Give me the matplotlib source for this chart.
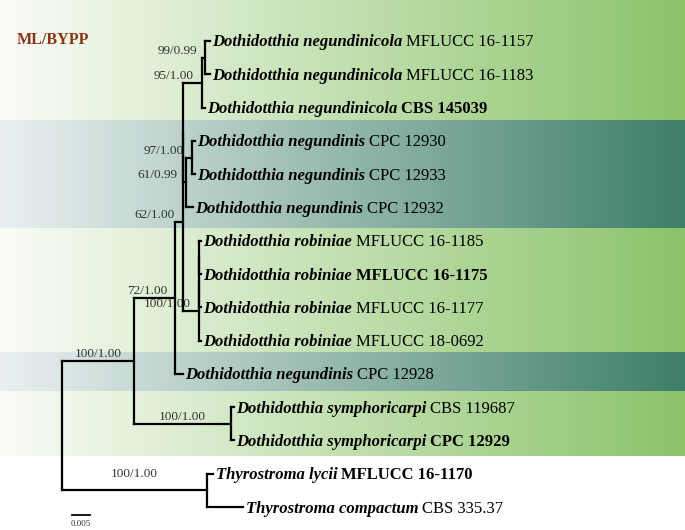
import matplotlib
matplotlib.use("Agg")
import matplotlib.pyplot as plt
import numpy as np

# tips, top to bottom
tip_names = ["Dothidotthia negundinicola", "Dothidotthia negundinicola", "Dothidotthia negundinicola",
             "Dothidotthia negundinis", "Dothidotthia negundinis", "Dothidotthia negundinis",
             "Dothidotthia robiniae", "Dothidotthia robiniae", "Dothidotthia robiniae", "Dothidotthia robiniae",
             "Dothidotthia negundinis",
             "Dothidotthia symphoricarpi", "Dothidotthia symphoricarpi",
             "Thyrostroma lycii", "Thyrostroma compactum"]
tip_strains = ["MFLUCC 16-1157", "MFLUCC 16-1183", "CBS 145039",
               "CPC 12930", "CPC 12933", "CPC 12932",
               "MFLUCC 16-1185", "MFLUCC 16-1175", "MFLUCC 16-1177", "MFLUCC 18-0692",
               "CPC 12928",
               "CBS 119687", "CPC 12929",
               "MFLUCC 16-1170", "CBS 335.37"]
strain_bold = [False, False, True, False, False, False, False, True, False, False,
               False, False, True, True, False]

# branches: child, parent, length (substitutions/site)
edge_child = ["dothid", "thyro", "t13", "t14", "n72", "symph", "t11", "t12",
              "n62", "t10", "nz", "r3", "r2", "t9", "r1", "t8", "t6", "t7",
              "negcola", "n99", "t0", "t1", "t2", "n61", "n97", "t3", "t4", "t5"]
edge_parent = ["root", "root", "thyro", "thyro", "dothid", "dothid", "symph", "symph",
               "n72", "n72", "n62", "n62", "r3", "r3", "r2", "r2", "r1", "r1",
               "nz", "negcola", "n99", "n99", "negcola", "nz", "n61", "n97", "n97", "n61"]
edge_length = [0.0200, 0.0403, 0.0017, 0.0100, 0.0114, 0.0269, 0.0008, 0.0008,
               0.0022, 0.0022, 0.0, 0.0044, 0.0, 0.0006, 0.0, 0.0006, 0.0006, 0.0006,
               0.0053, 0.0008, 0.0014, 0.0014, 0.0008, 0.0008, 0.0017, 0.0008, 0.0008, 0.0019]

supports = {"dothid": "100/1.00", "thyro": "100/1.00", "n72": "72/1.00", "symph": "100/1.00",
            "n62": "62/1.00", "r3": "100/1.00", "negcola": "95/1.00", "n99": "99/0.99",
            "n61": "61/0.99", "n97": "97/1.00"}

scale_len = 0.005

# pixel layout helpers (figure is 685 x 530 px)
PX_PER_UNIT = 3600.0
ROOT_PX = 62.0
TIP0_PX = 41.0
TIP_STEP = 33.29


def px2x(px):
    return (px - ROOT_PX) / PX_PER_UNIT


def px2y(py):
    return (py - TIP0_PX) / TIP_STEP


children = {}
blen = {}
for c, p, l in zip(edge_child, edge_parent, edge_length):
    children.setdefault(p, []).append(c)
    blen[c] = l

xpos = {"root": 0.0}
ypos = {}


def layout(node):
    for c in children.get(node, []):
        xpos[c] = xpos[node] + blen[c]
        layout(c)
    if node.startswith("t") and node[1:].isdigit():
        ypos[node] = float(node[1:])
    else:
        kids = children[node]
        ypos[node] = (ypos[kids[0]] + ypos[kids[-1]]) / 2


layout("root")

fig = plt.figure(figsize=(6.85, 5.30), dpi=100)
ax = fig.add_axes([0, 0, 1, 1])
ax.set_xlim(px2x(0), px2x(685))
ax.set_ylim(px2y(530), px2y(0))
ax.axis("off")


def band(y0, y1, c_left, c_right):
    t = np.linspace(0, 1, 256)[None, :, None]
    a = np.array(c_left)[None, None, :] / 255.0
    b = np.array(c_right)[None, None, :] / 255.0
    img = a + (b - a) * t
    ax.imshow(img, extent=[px2x(0), px2x(685), y1, y0], aspect="auto", zorder=0,
              interpolation="bilinear")


green_l, green_r = (250, 252, 247), (138, 195, 106)
teal_l, teal_r = (234, 240, 241), (62, 127, 104)
band(px2y(0), px2y(456), green_l, green_r)
band(px2y(120), px2y(228), teal_l, teal_r)
band(px2y(352), px2y(391), teal_l, teal_r)

lw = 1.6
for c, p in zip(edge_child, edge_parent):
    ax.plot([xpos[p], xpos[c]], [ypos[c], ypos[c]], color="black", lw=lw,
            solid_capstyle="projecting", zorder=3)
for p, kids in children.items():
    ys = [ypos[k] for k in kids]
    ax.plot([xpos[p], xpos[p]], [min(ys), max(ys)], color="black", lw=lw,
            solid_capstyle="projecting", zorder=3)

# support values
for node, lab in supports.items():
    par = edge_parent[edge_child.index(node)]
    seg_px = (xpos[node] - xpos[par]) * PX_PER_UNIT
    if seg_px > 60:
        xl = (xpos[node] + xpos[par]) / 2
        ha = "center"
    else:
        xl = xpos[node] - 8 / PX_PER_UNIT
        ha = "right"
    dy = 16 if node == "thyro" else 7
    ax.text(xl, ypos[node] - dy / TIP_STEP, lab, ha=ha, va="center", fontsize=9.5,
            family="Liberation Serif", color="#333333", zorder=2)

# tip labels
renderer = fig.canvas.get_renderer()
for i, (name, strain, bold) in enumerate(zip(tip_names, tip_strains, strain_bold)):
    tip = "t%d" % i
    x0 = xpos[tip] + 2.5 / PX_PER_UNIT
    yb = ypos[tip] + 5.5 / TIP_STEP
    t1 = ax.text(x0, yb, name, ha="left", va="baseline", fontsize=12,
                 family="Liberation Serif", style="italic", weight="bold", zorder=4)
    bb = t1.get_window_extent(renderer=renderer)
    x_end = ax.transData.inverted().transform((bb.x1, bb.y0))[0]
    ax.text(x_end + 3.5 / PX_PER_UNIT, yb, strain, ha="left", va="baseline", fontsize=12,
            family="Liberation Serif", weight="bold" if bold else "normal", zorder=4)

ax.text(px2x(17), px2y(40), "ML/BYPP", ha="left", va="center", fontsize=11.5,
        family="Liberation Serif", weight="bold", color="#8a3418", zorder=4)

# scale bar
sb_x = px2x(72)
ax.plot([sb_x, sb_x + scale_len], [px2y(515), px2y(515)], color="black", lw=1.3, zorder=3)
ax.text(sb_x + scale_len / 2, px2y(524), "0.005", ha="center", va="center", fontsize=6.5,
        family="Liberation Serif", color="#333333")

fig.savefig("out.png", dpi=100)
